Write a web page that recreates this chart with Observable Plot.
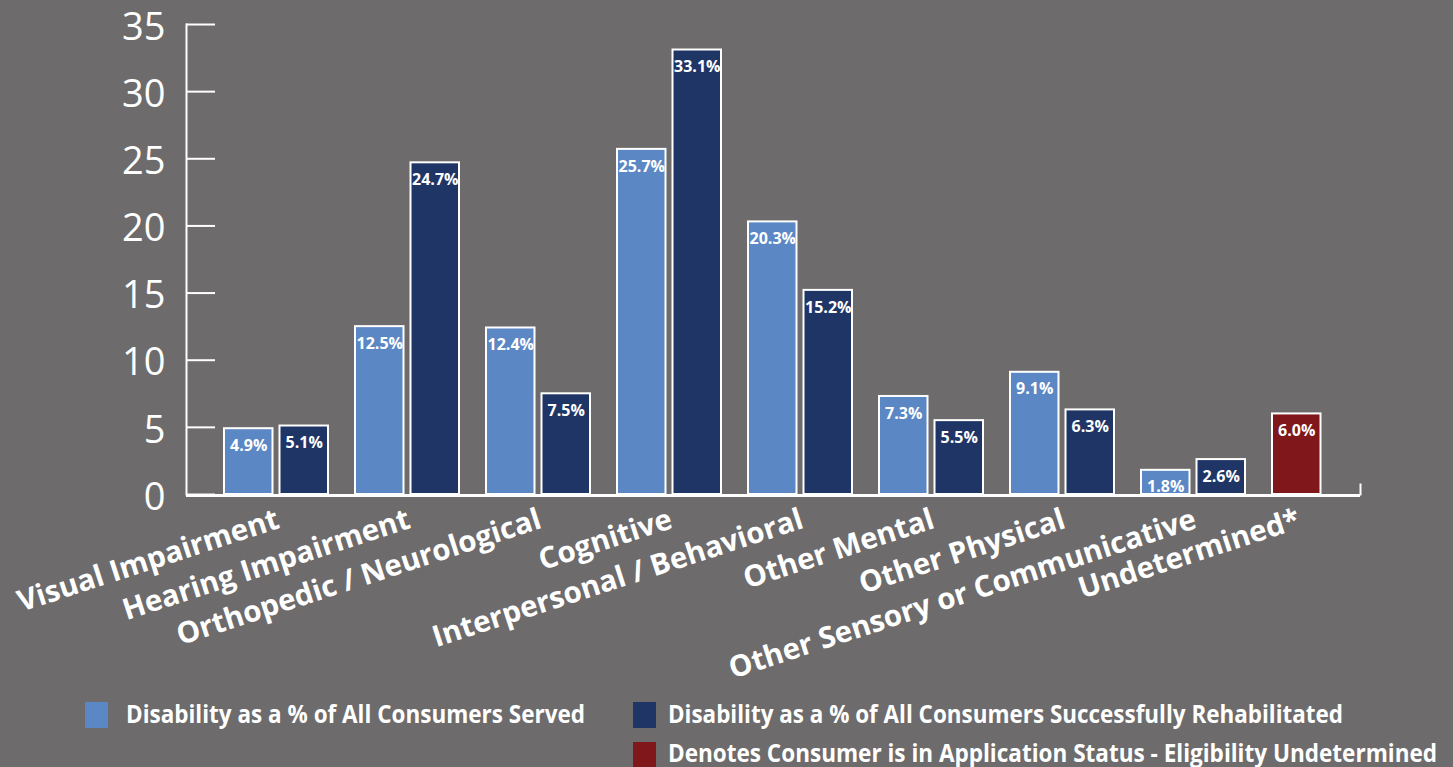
<!DOCTYPE html>
<html>
<head>
<meta charset="utf-8">
<script src="https://cdn.jsdelivr.net/npm/d3@7"></script>
<script src="https://cdn.jsdelivr.net/npm/@observablehq/plot@0.6"></script>
<style>
  html, body { margin: 0; padding: 0; background: #6d6b6c; overflow: hidden; }
  #chart svg, #legend svg { display: block; }
</style>
</head>
<body>
<div id="chart"></div>
<div id="legend"></div>
<script>
const categories = [
  "Visual Impairment",
  "Hearing Impairment",
  "Orthopedic / Neurological",
  "Cognitive",
  "Interpersonal / Behavioral",
  "Other Mental",
  "Other Physical",
  "Other Sensory or Communicative",
  "Undetermined*"
];
const servedPct = [4.9, 12.5, 12.4, 25.7, 20.3, 7.3, 9.1, 1.8, null];
const rehabPct = [5.1, 24.7, 7.5, 33.1, 15.2, 5.5, 6.3, 2.6, null];
const undeterminedPct = [null, null, null, null, null, null, null, null, 6.0];
const yTicks = [0, 5, 10, 15, 20, 25, 30, 35];
const legendLabels = [
  "Disability as a % of All Consumers Served",
  "Disability as a % of All Consumers Successfully Rehabilitated",
  "Denotes Consumer is in Application Status - Eligibility Undetermined"
];

const BG = "#6d6b6c";
const LIGHT = "#5b87c5";
const NAVY = "#1f3566";
const RED = "#80171a";
const FONT = "'Open Sans', 'DejaVu Sans', sans-serif";

const toRows = (vals) => categories
  .map((c, i) => ({category: c, value: vals[i]}))
  .filter(d => d.value != null);
const served = toRows(servedPct);
const rehab = toRows(rehabPct);
const pending = toRows(undeterminedPct);

const single = new Set(pending.map(d => d.category));
const pairedCats = categories.filter(c => !single.has(c));
const singleCats = categories.filter(c => single.has(c));

const fmt = d => d.value.toFixed(1) + "%";

const barBase = {x: "category", y: "value", stroke: "white", strokeWidth: 2};
const valueLabel = {x: "category", y: "value", text: fmt, fill: "white", fontSize: 16,
  fontWeight: "bold", dy: 17, textAnchor: "middle", fontFamily: FONT};
const catLabel = {x: d => d, text: d => d, frameAnchor: "bottom", dy: 33, rotate: -18,
  textAnchor: "end", fill: "white", fontSize: 29.5, fontWeight: "bold", fontFamily: FONT};

const chart = Plot.plot({
  width: 1453,
  height: 690,
  marginLeft: 186,
  marginRight: 93,
  marginTop: 24,
  marginBottom: 196,
  style: {background: BG, color: "white", fontFamily: FONT},
  x: {domain: categories, range: [213, 1396.5], padding: 0, axis: null},
  y: {domain: [0, 35], axis: null},
  marks: [
    Plot.barY(served, {...barBase, fill: LIGHT, insetLeft: 9, insetRight: 73.5}),
    Plot.barY(rehab, {...barBase, fill: NAVY, insetLeft: 64.5, insetRight: 18}),
    Plot.barY(pending, {...barBase, fill: RED, insetLeft: 9, insetRight: 73.5}),
    Plot.text(served, {...valueLabel, dx: -32.25}),
    Plot.text(rehab, {...valueLabel, dx: 23.25}),
    Plot.text(pending, {...valueLabel, dx: -32.25}),
    Plot.ruleY(yTicks, {stroke: "white", strokeWidth: 2, insetRight: 1174 - 29}),
    Plot.frame({anchor: "left", stroke: "white", strokeWidth: 2}),
    Plot.ruleY([0], {stroke: "white", strokeWidth: 3, dy: 1}),
    Plot.frame({anchor: "right", stroke: "white", strokeWidth: 2, insetTop: 460}),
    Plot.axisY(yTicks, {tickSize: 0, tickPadding: 21, fontSize: 38, fontWeight: 400,
      fill: "white", dy: 3, fontFamily: FONT, label: null}),
    Plot.text(pairedCats, {...catLabel, dx: 0}),
    Plot.text(singleCats, {...catLabel, dx: -27})
  ]
});
document.getElementById("chart").appendChild(chart);

// Legend (below the chart SVG)
const legendItems = [
  {label: legendLabels[0], color: LIGHT, sx: 85, sy: 12, tx: 126, ty: 33, tw: 459},
  {label: legendLabels[1], color: NAVY, sx: 633, sy: 12, tx: 668, ty: 33, tw: 675},
  {label: legendLabels[2], color: RED, sx: 633, sy: 52, tx: 668, ty: 72, tw: 769}
];
const lsvg = d3.select("#legend").append("svg")
  .attr("width", 1453).attr("height", 77)
  .style("background", BG);
lsvg.selectAll("rect").data(legendItems).join("rect")
  .attr("x", d => d.sx).attr("y", d => d.sy)
  .attr("width", 23).attr("height", 26)
  .attr("fill", d => d.color);
lsvg.selectAll("text").data(legendItems).join("text")
  .attr("x", d => d.tx).attr("y", d => d.ty)
  .attr("fill", "white")
  .attr("font-family", "'Liberation Sans Narrow', 'Open Sans', sans-serif")
  .attr("font-weight", "bold")
  .attr("font-size", 25)
  .attr("textLength", d => d.tw)
  .attr("lengthAdjust", "spacingAndGlyphs")
  .text(d => d.label);
</script>
</body>
</html>
